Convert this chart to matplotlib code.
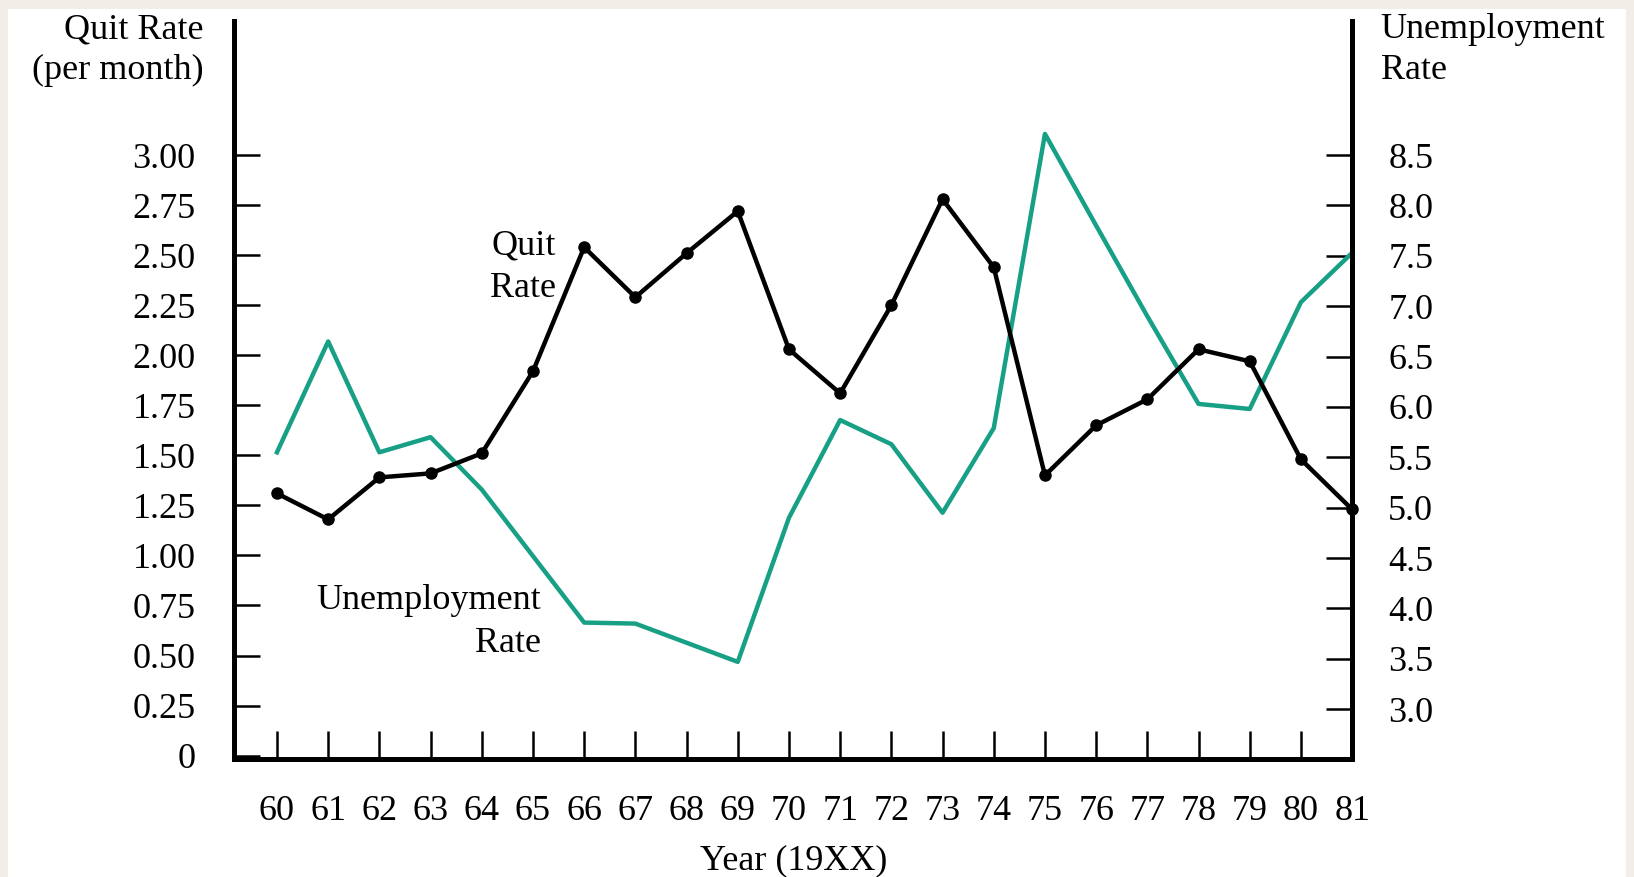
import matplotlib
matplotlib.use('Agg')
import matplotlib.pyplot as plt
from matplotlib.patches import Rectangle

plt.rcParams['font.family'] = ['Liberation Serif', 'DejaVu Serif']

years = list(range(60, 82))
year_labels = [str(y) for y in years]
quit_rate = [1.31, 1.18, 1.39, 1.41, 1.51, 1.92, 2.54, 2.29, 2.51, 2.72, 2.03,
             1.81, 2.25, 2.78, 2.44, 1.40, 1.65, 1.78, 2.03, 1.97, 1.48, 1.23]
unemployment = [5.55, 6.65, 5.55, 5.70, 5.18, 4.52, 3.86, 3.85, 3.66, 3.47, 4.90,
                5.87, 5.63, 4.95, 5.79, 8.71, 7.80, 6.90, 6.03, 5.98, 7.04, 7.53]
left_ticks = [0, 0.25, 0.5, 0.75, 1.0, 1.25, 1.5, 1.75, 2.0, 2.25, 2.5, 2.75, 3.0]
left_labels = ['0', '0.25', '0.50', '0.75', '1.00', '1.25', '1.50', '1.75',
               '2.00', '2.25', '2.50', '2.75', '3.00']
right_ticks = [3.0, 3.5, 4.0, 4.5, 5.0, 5.5, 6.0, 6.5, 7.0, 7.5, 8.0, 8.5]

teal = '#17a085'
fs = 26
fig = plt.figure(figsize=(16.34, 8.77), dpi=100)
fig.patch.set_facecolor('#f1eee8')
fig.patches.append(Rectangle((0.005, 0.0), 0.99, 0.99, transform=fig.transFigure,
                             facecolor='white', edgecolor='none', zorder=-1))

ax = fig.add_axes([0.1435, 0.135, 0.684, 0.841])
ax.patch.set_alpha(0)
ax2 = ax.twinx()

ax2.plot(years, unemployment, color=teal, lw=3.2)
ax.plot(years, quit_rate, color='black', lw=3.2, marker='o', ms=8, clip_on=False)
ax.set_zorder(ax2.get_zorder() + 1)

ax.set_xlim(59.17, 81)
ax.set_ylim(-0.015, 3.67)
ax2.set_ylim(2.51, 9.83)

for a in (ax, ax2):
    a.spines['top'].set_visible(False)
    for s in ('left', 'right', 'bottom'):
        a.spines[s].set_linewidth(3.5)

ax.set_xticks(years)
ax.set_xticklabels(year_labels)
ax.set_yticks(left_ticks)
ax.set_yticklabels(left_labels)
ax2.set_yticks(right_ticks)
ax2.set_yticklabels([f'{t:.1f}' for t in right_ticks])

ax.tick_params(axis='x', direction='in', length=20, width=1.8, labelsize=fs, pad=26)
ax.tick_params(axis='y', direction='in', length=19, width=1.8, labelsize=fs, pad=28)
ax2.tick_params(axis='y', direction='in', length=19, width=1.8, labelsize=fs, pad=26)

ax.set_xlabel('Year (19XX)', fontsize=fs, labelpad=12)

ax.text(65.45, 2.44, 'Quit\nRate', ha='right', va='center', fontsize=fs, linespacing=1.4)
ax.text(65.15, 0.67, 'Unemployment\nRate', ha='right', va='center', fontsize=fs,
        multialignment='right', linespacing=1.4)

fig.text(0.1245, 0.985, 'Quit Rate\n(per month)', ha='right', va='top', fontsize=fs,
         multialignment='right', linespacing=1.3)
fig.text(0.845, 0.985, 'Unemployment\nRate', ha='left', va='top', fontsize=fs,
         linespacing=1.3)

fig.savefig('out.png', dpi=100, facecolor=fig.get_facecolor())
